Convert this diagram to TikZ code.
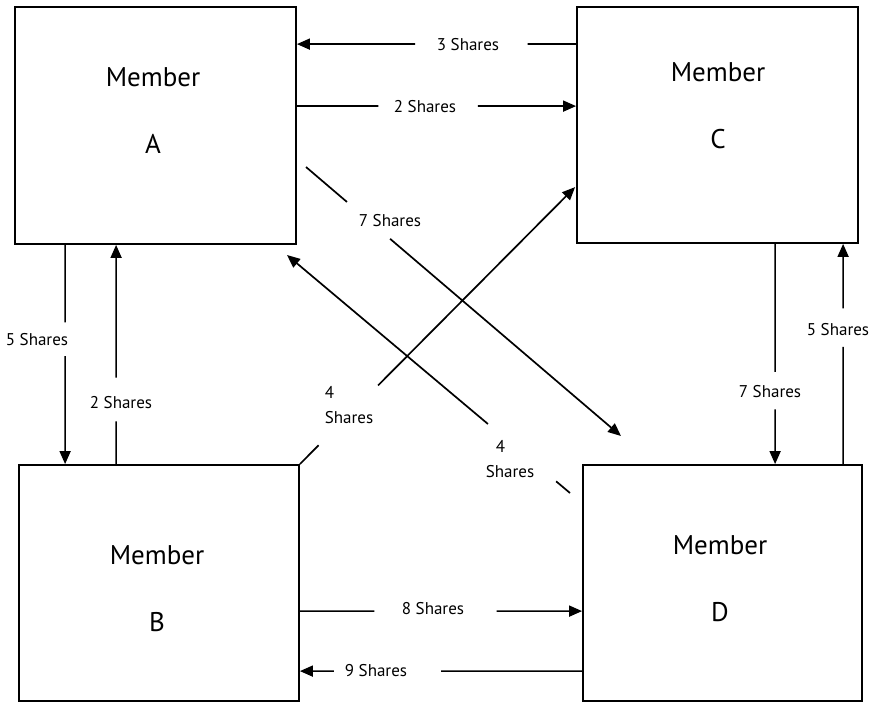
\documentclass[tikz,border=0pt]{standalone}
\usepackage{fontspec}
\setmainfont{PT Sans}
\usetikzlibrary{arrows.meta,calc}
\begin{document}
\begin{tikzpicture}[x=1pt,y=-1pt,
  member/.style={draw,line width=1.8pt,inner sep=0pt,minimum width=280pt,minimum height=236pt},
  mtext/.style={anchor=base,font=\fontsize{27}{30}\selectfont},
  flow/.style={line width=1.7pt,-{Triangle[length=13pt,width=11pt]}},
  lbl/.style={font=\fontsize{17}{25}\selectfont,inner sep=0pt}]
\useasboundingbox (0,0) rectangle (873,703);

% the four members
\node[member,minimum width=281pt,minimum height=237pt] (A) at (155.5,125.5) {};
\node[member,minimum width=281pt] (C) at (717.5,125) {};
\node[member] (B) at (159,583) {};
\node[member,minimum width=279pt] (D) at (722.5,583) {};

\node[mtext] (nA) at (153,87) {Member};
\node[mtext] (lA) at (153,154) {A};
\node[mtext] (nC) at (718,82) {Member};
\node[mtext] (lC) at (718,149) {C};
\node[mtext] (nB) at (157,564) {Member};
\node[mtext] (lB) at (157,631) {B};
\node[mtext] (nD) at (720,554) {Member};
\node[mtext] (lD) at (720,621) {D};

% end points of the share flows
\coordinate (c3s) at ($(C.north west)+(0,38)$);
\coordinate (c3e) at ($(A.north east)+(0,38)$);
\coordinate (a2s) at ($(A.north east)+(0,100)$);
\coordinate (a2e) at ($(C.north west)+(0,100)$);
\coordinate (a5s) at ($(A.south west)+(51,0)$);
\coordinate (a5e) at ($(B.north west)+(47,0)$);
\coordinate (b2s) at ($(B.north west)+(98,0)$);
\coordinate (b2e) at ($(A.south west)+(102,0)$);
\coordinate (c7s) at ($(C.south west)+(199,0)$);
\coordinate (c7e) at ($(D.north west)+(193,0)$);
\coordinate (d5s) at ($(D.north west)+(261,0)$);
\coordinate (d5e) at ($(C.south west)+(267,0)$);
\coordinate (b8s) at ($(B.north east)+(0,147)$);
\coordinate (b8e) at ($(D.north west)+(0,147)$);
\coordinate (d9s) at ($(D.north west)+(0,207)$);
\coordinate (d9e) at ($(B.north east)+(0,207)$);
\coordinate (a7s) at (306,167);
\coordinate (a7e) at (621,436);
\coordinate (b4s) at (B.north east);
\coordinate (b4e) at ($(C.north west)+(-1,181)$);
\coordinate (d4s) at (570,493);
\coordinate (d4e) at (287,255);

% flows, each broken where its label sits
\draw[flow] (c3s) -- ($(c3s)!0.174!(c3e)$) ($(c3s)!0.577!(c3e)$) -- (c3e);
\node[lbl] (t1) at (468,45) {3 Shares};
\draw[flow] (a2s) -- ($(a2s)!0.292!(a2e)$) ($(a2s)!0.648!(a2e)$) -- (a2e);
\node[lbl] (t2) at (425,107) {2 Shares};
\draw[flow] (a5s) -- ($(a5s)!0.353!(a5e)$) ($(a5s)!0.507!(a5e)$) -- (a5e);
\node[lbl] (t3) at (37,340) {5 Shares};
\draw[flow] (b2s) -- ($(b2s)!0.195!(b2e)$) ($(b2s)!0.394!(b2e)$) -- (b2e);
\node[lbl] (t4) at (121,403) {2 Shares};
\draw[flow] (c7s) -- ($(c7s)!0.581!(c7e)$) ($(c7s)!0.752!(c7e)$) -- (c7e);
\node[lbl] (t5) at (770,392) {7 Shares};
\draw[flow] (d5s) -- ($(d5s)!0.532!(d5e)$) ($(d5s)!0.707!(d5e)$) -- (d5e);
\node[lbl] (t6) at (838,330) {5 Shares};
\draw[flow] (b8s) -- ($(b8s)!0.264!(b8e)$) ($(b8s)!0.697!(b8e)$) -- (b8e);
\node[lbl] (t7) at (433,609) {8 Shares};
\draw[flow] (d9s) -- ($(d9s)!0.5!(d9e)$) ($(d9s)!0.88!(d9e)$) -- (d9e);
\node[lbl] (t8) at (376,671) {9 Shares};
\draw[flow] (a7s) -- ($(a7s)!0.13!(a7e)$) ($(a7s)!0.267!(a7e)$) -- (a7e);
\node[lbl] (t9) at (390,221) {7 Shares};
\draw[flow] (b4s) -- ($(b4s)!0.068!(b4e)$) ($(b4s)!0.284!(b4e)$) -- (b4e);
\node[lbl,align=left] (t10) at (349,405) {4\\Shares};
\draw[flow] (d4s) -- ($(d4s)!0.049!(d4e)$) ($(d4s)!0.29!(d4e)$) -- (d4e);
\node[lbl,align=left] (t11) at (510,459) {\hspace*{10pt}4\\Shares};
\end{tikzpicture}
\end{document}
